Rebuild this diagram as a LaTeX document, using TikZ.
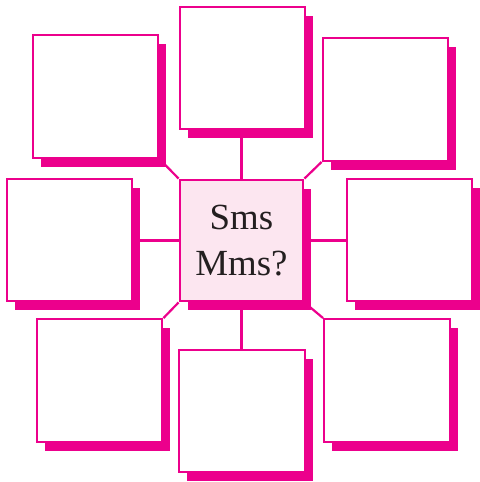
\documentclass[tikz,border=0pt]{standalone}
\usepackage{fontspec}
\setmainfont{Liberation Serif}
\usetikzlibrary{shadows,backgrounds}
\definecolor{mag}{HTML}{EC008C}
\definecolor{pinkfill}{HTML}{FCE6F0}
\definecolor{txt}{HTML}{231F20}
\tikzset{
  box/.style={draw=mag, line width=2.4bp, fill=white, inner sep=0pt,
    minimum width=125.5bp, minimum height=122.5bp,
    general shadow={fill=mag, shadow xshift=8bp, shadow yshift=-9bp}},
  hub/.style={box, fill=pinkfill, minimum width=123.5bp, minimum height=121.5bp,
    text=txt, align=center, font=\fontsize{37}{46}\selectfont},
  link/.style={draw=mag, line width=2.2bp}
}
\begin{document}
\begin{tikzpicture}[x=1bp,y=-1bp]
\useasboundingbox (0,0) rectangle (480,482);
\node[box] (TL) at (95.5,96.5) {};
\node[box] (T)  at (242.5,68) {};
\node[box] (TR) at (385.5,99.5) {};
\node[box] (L)  at (69.5,240) {};
\node[hub] (C)  at (241.5,240.5) {Sms\\Mms?};
\node[box] (R)  at (409.5,240) {};
\node[box] (BL) at (99.5,380.5) {};
\node[box] (B)  at (242,411) {};
\node[box] (BR) at (387,380.5) {};
\begin{pgfonlayer}{background}
\draw[link] (C.north) -- (C.north |- T.south);
\draw[link] (C.south) -- (C.south |- B.north);
\draw[link] (C.west) -- (C.west -| L.east);
\draw[link] (C.east) -- (C.east -| R.west);
\draw[link] (C.north west) -- (TL.south east);
\draw[link] (C.north east) -- (TR.south west);
\draw[link] (C.south west) -- (BL.north east);
\draw[link] (C.south east) -- (BR.north west);
\end{pgfonlayer}
\end{tikzpicture}
\end{document}
